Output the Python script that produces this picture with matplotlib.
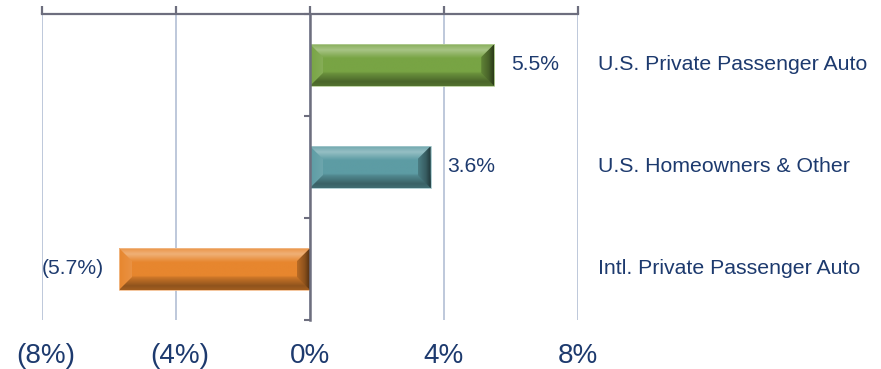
import numpy as np
import matplotlib.pyplot as plt
from matplotlib.patches import Polygon, Rectangle
from matplotlib.colors import to_rgb
from matplotlib.transforms import ScaledTranslation

plt.rcParams['font.family'] = ['Liberation Sans', 'DejaVu Sans']

# ---------------------------------------------------------------
# data
# ---------------------------------------------------------------
categories = ["U.S. Private Passenger Auto", "U.S. Homeowners & Other", "Intl. Private Passenger Auto"]
values = [5.5, 3.6, -5.7]
value_labels = ["5.5%", "3.6%", "(5.7%)"]
bar_colors = ["#78a444", "#5d9ca4", "#e7862e"]
xticks = [-8, -4, 0, 4, 8]
xtick_labels = ["(8%)", "(4%)", "0%", "4%", "8%"]

text_color = "#1d3a6e"
axis_color = "#6d6e7e"
grid_color = "#b9c4d8"


def shade(c, f):
    # f > 0 -> towards white, f < 0 -> towards black
    c = np.array(to_rgb(c))
    if f >= 0:
        return c + (1 - c) * f
    return c * (1 + f)


def profile(c, stops, n=200):
    pos = [s[0] for s in stops]
    fac = np.interp(np.linspace(0, 1, n), pos, [s[1] for s in stops])
    return np.array([shade(c, f) for f in fac])


fig = plt.figure(figsize=(8.81, 3.69), dpi=100)
ax = fig.add_axes([42 / 881, 49 / 369, 536 / 881, 306 / 369])

ypos = np.arange(len(categories))
bar_h = 0.41
bars = ax.barh(ypos, values, height=bar_h, color=bar_colors, zorder=2)

ax.set_xlim(-8, 8)
ax.set_ylim(2.5, -0.5)

# bevel size in pixels -> data units
inv = ax.transData.inverted()
p0 = inv.transform((0, 0))
p1 = inv.transform((13, 13))
bx, by = abs(p1[0] - p0[0]), abs(p1[1] - p0[1])

vert_stops = [(0, 0.12), (0.14, 0.35), (0.3, 0.06), (0.34, 0.0), (0.66, 0.0),
              (0.7, -0.12), (0.9, -0.38), (1.0, -0.3)]

for rect, col in zip(bars, bar_colors):
    x0 = rect.get_x()
    x1 = x0 + rect.get_width()
    if x1 < x0:
        x0, x1 = x1, x0
    yt = rect.get_y()
    yb = yt + rect.get_height()

    # vertical gradient over the whole face
    img = profile(col, vert_stops)[:, None, :]
    im = ax.imshow(img, extent=(x0, x1, yb, yt), origin='upper', aspect='auto',
                   interpolation='bilinear', zorder=3)
    im.set_clip_path(rect)

    # left bevel, a little lighter
    left = Polygon([(x0, yt), (x0 + bx, yt + by), (x0 + bx, yb - by), (x0, yb)],
                   closed=True, transform=ax.transData)
    limg = profile(col, [(0, 0.0), (1, 0.1)], 50)[None, :, :]
    lim = ax.imshow(limg, extent=(x0, x0 + bx, yb, yt), origin='upper', aspect='auto',
                    interpolation='bilinear', zorder=4)
    lim.set_clip_path(left)

    # right bevel, dark towards the edge
    right = Polygon([(x1, yt), (x1 - bx, yt + by), (x1 - bx, yb - by), (x1, yb)],
                    closed=True, transform=ax.transData)
    rimg = profile(col, [(0, -0.2), (0.6, -0.4), (1, -0.65)], 50)[None, :, :]
    rim = ax.imshow(rimg, extent=(x1 - bx, x1, yb, yt), origin='upper', aspect='auto',
                    interpolation='bilinear', zorder=4)
    rim.set_clip_path(right)

    ax.add_patch(Rectangle((x0, yt), x1 - x0, yb - yt, facecolor='none',
                           edgecolor=shade(col, 0.45), lw=0.6, zorder=5))

ax.set_xlim(-8, 8)
ax.set_ylim(2.5, -0.5)

# value labels next to each bar
for i, (v, lab) in enumerate(zip(values, value_labels)):
    if v >= 0:
        ax.annotate(lab, xy=(v, i), xytext=(12, 0), textcoords='offset points',
                    ha='left', va='center', fontsize=15.2, color=text_color)
    else:
        ax.annotate(lab, xy=(v, i), xytext=(-11, 0), textcoords='offset points',
                    ha='right', va='center', fontsize=15.2, color=text_color)

# category names to the right of the plot area
for i, cat in enumerate(categories):
    ax.text(1.037, i, cat, transform=ax.get_yaxis_transform(), ha='left', va='center',
            fontsize=15.3, color=text_color)

# axes styling
for s in ['bottom', 'right']:
    ax.spines[s].set_visible(False)
ax.spines['top'].set_color(axis_color)
ax.spines['top'].set_linewidth(1.6)
ax.spines['left'].set_position(('data', 0))
ax.spines['left'].set_color(axis_color)
ax.spines['left'].set_linewidth(1.8)
ax.spines['left'].set_zorder(6)

ax.set_xticks(xticks)
ax.set_xticklabels(xtick_labels, fontsize=20, color=text_color)
ax.tick_params(axis='x', top=True, bottom=False, labeltop=False, labelbottom=True,
               direction='out', length=6, width=1.6, color=axis_color, pad=10.5)
# negative (parenthesised) labels sit a little to the right
for lab in ax.get_xticklabels():
    if lab.get_text().startswith('('):
        lab.set_transform(lab.get_transform() + ScaledTranslation(4 / 100, 0, fig.dpi_scale_trans))

ax.set_yticks([-0.5, 0.5, 1.5, 2.5])
ax.set_yticklabels([])
ax.tick_params(axis='y', left=True, direction='out', length=4.5, width=1.5, color=axis_color)

ax.grid(axis='x', color=grid_color, lw=1.3, zorder=0)
ax.set_axisbelow(True)

fig.savefig("out.png", dpi=100)
